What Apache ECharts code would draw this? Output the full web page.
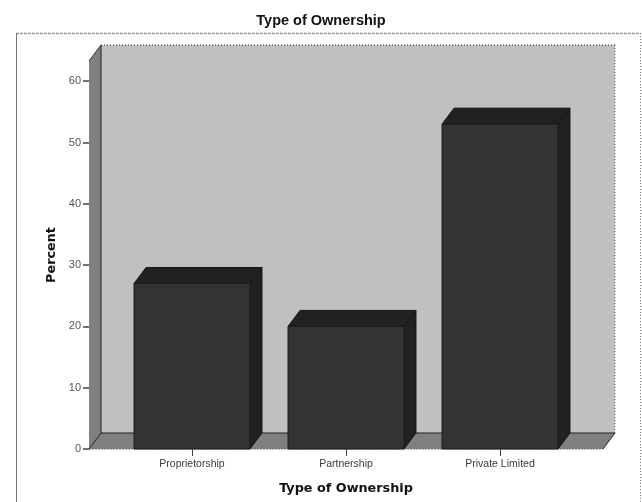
<!DOCTYPE html>
<html>
<head>
<meta charset="utf-8">
<style>html,body{margin:0;padding:0;background:#fff}#chart{width:642px;height:502px}</style>
<script src="https://cdn.jsdelivr.net/npm/echarts@6/dist/echarts.min.js"></script>
</head>
<body>
<div id="chart"></div>
<script>
// Ownership shares, in percent
const categories = ['Proprietorship', 'Partnership', 'Private Limited'];
const percents = [27, 20, 53];
const yTicks = [0, 10, 20, 30, 40, 50, 60];

// Oblique projection of the pseudo-3D box, in pixels
const DEPTH_X = 12;
const DEPTH_Y = 16;
const WALL_OVERHANG = 26;
const BAR_RATIO = 0.753;

const chart = echarts.init(document.getElementById('chart'));

function poly(points, fill, stroke) {
  return {
    type: 'polygon',
    shape: { points },
    style: { fill, stroke: stroke || 'none', lineWidth: 1 }
  };
}

function seg(x1, y1, x2, y2, stroke, lineDash) {
  return {
    type: 'line',
    shape: { x1, y1, x2, y2 },
    style: { stroke, lineWidth: 1, lineDash: lineDash || null }
  };
}

// Back wall, side wall and floor of the box, with their edges
function renderWalls(params, api) {
  const c = params.coordSys;
  const l = c.x - WALL_OVERHANG, r = c.x + c.width + WALL_OVERHANG;
  const t = c.y, b = c.y + c.height;
  const bl = l + DEPTH_X, br = r + DEPTH_X, bt = t - DEPTH_Y, bb = b - DEPTH_Y;
  return {
    type: 'group',
    children: [
      poly([[bl, bt], [br, bt], [br, bb], [bl, bb]], '#c0c0c0'),
      poly([[l, t], [bl, bt], [bl, bb], [l, b]], '#808080'),
      poly([[l, b], [bl, bb], [br, bb], [r, b]], '#808080'),
      seg(bl, bt, br, bt, '#222', [1, 2]),
      seg(br, bt, br, bb, '#666', [1, 2]),
      seg(bl, bt, bl, bb, '#222'),
      seg(bl, bb, br, bb, '#222'),
      seg(l, t, bl, bt, '#333'),
      seg(l, b, bl, bb, '#222'),
      seg(r, b, br, bb, '#222'),
      seg(l, b, r, b, '#777', [2, 1])
    ]
  };
}

// One box per category: front face, top face and right face
function renderBar(params, api) {
  const base = api.coord([api.value(0), 0]);
  const top = api.coord([api.value(0), api.value(1)]);
  const w = api.size([1, 0])[0] * BAR_RATIO;
  const l = base[0] - w / 2, r = base[0] + w / 2;
  const yT = top[1], yB = base[1];
  return {
    type: 'group',
    children: [
      poly([[r, yT], [r + DEPTH_X, yT - DEPTH_Y], [r + DEPTH_X, yB - DEPTH_Y], [r, yB]], '#212121', '#161616'),
      poly([[l, yT], [l + DEPTH_X, yT - DEPTH_Y], [r + DEPTH_X, yT - DEPTH_Y], [r, yT]], '#212121', '#161616'),
      poly([[l, yT], [r, yT], [r, yB], [l, yB]], '#333333', '#1c1c1c')
    ]
  };
}

chart.setOption({
  animation: false,
  backgroundColor: '#ffffff',
  title: {
    text: 'Type of Ownership',
    left: 'center',
    top: 8,
    textStyle: { fontFamily: 'Liberation Sans', fontSize: 14.5, fontWeight: 'bold', color: '#111' }
  },
  graphic: [
    {
      type: 'line',
      shape: { x1: 16, y1: 33.5, x2: 641, y2: 33.5 },
      style: { stroke: '#999', lineWidth: 1.5, lineDash: [3, 1] },
      silent: true
    },
    {
      type: 'line',
      shape: { x1: 16.5, y1: 33, x2: 16.5, y2: 502 },
      style: { stroke: '#777', lineWidth: 1 },
      silent: true
    },
    {
      type: 'line',
      shape: { x1: 640.5, y1: 33, x2: 640.5, y2: 502 },
      style: { stroke: '#888', lineWidth: 1, lineDash: [1, 2] },
      silent: true
    }
  ],
  grid: { left: 115, width: 462, top: 61, height: 388 },
  xAxis: {
    type: 'category',
    data: categories,
    name: 'Type of Ownership',
    nameLocation: 'middle',
    nameGap: 33,
    nameTextStyle: { fontFamily: 'DejaVu Sans', fontSize: 12.8, fontWeight: 'bold', color: '#111' },
    axisLine: { show: false },
    axisTick: { show: true, alignWithLabel: true, length: 7, lineStyle: { color: '#444' } },
    axisLabel: { margin: 10, fontFamily: 'Liberation Sans', fontSize: 10.5, color: '#3a3a3a' },
    splitLine: { show: false }
  },
  yAxis: {
    type: 'value',
    min: 0,
    max: 63.3,
    offset: 26,
    name: 'Percent',
    nameLocation: 'middle',
    nameGap: 30,
    nameTextStyle: { fontFamily: 'DejaVu Sans', fontSize: 12.8, fontWeight: 'bold', color: '#111' },
    axisLine: { show: true, lineStyle: { color: '#222', type: [1, 2] } },
    axisTick: { show: true, length: 6, customValues: yTicks, lineStyle: { color: '#444', width: 1.5 } },
    axisLabel: { margin: 8, customValues: yTicks, fontFamily: 'Liberation Sans', fontSize: 11, color: '#555' },
    splitLine: { show: false }
  },
  series: [
    {
      type: 'custom',
      coordinateSystem: 'cartesian2d',
      clip: false,
      silent: true,
      z: 1,
      renderItem: renderWalls,
      data: [[0, 0]]
    },
    {
      type: 'custom',
      coordinateSystem: 'cartesian2d',
      clip: false,
      z: 2,
      renderItem: renderBar,
      encode: { x: 0, y: 1 },
      data: percents.map((v, i) => [i, v])
    }
  ]
});
</script>
</body>
</html>
